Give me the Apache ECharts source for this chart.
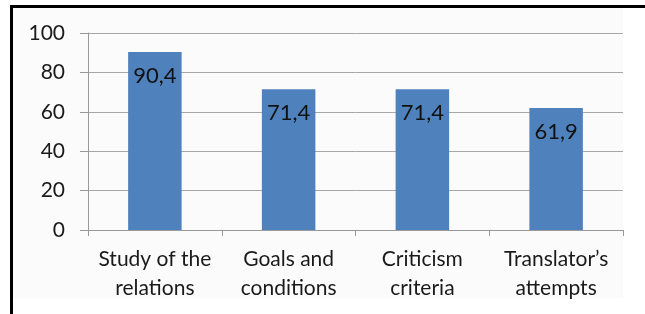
<!DOCTYPE html>
<html>
<head>
<meta charset="utf-8">
<script src="https://cdn.jsdelivr.net/npm/echarts@6/dist/echarts.min.js"></script>
<style>
  html, body { margin: 0; padding: 0; background: #fff; }
  #wrap { position: relative; width: 645px; height: 314px; overflow: hidden; }
  #frame {
    position: absolute; left: 10px; top: 5px; right: 0; bottom: 0;
    border-left: 3px solid #000; border-top: 3px solid #000;
  }
  #panel { position: absolute; left: 13px; top: 8px; width: 610px; height: 290px; background: #fbfbfb; }
  #chart { position: absolute; left: 0; top: 0; width: 645px; height: 314px; }
</style>
</head>
<body>
<div id="wrap">
  <div id="panel"></div>
  <div id="frame"></div>
  <div id="chart"></div>
</div>
<script>
const categories = ['Study of the\nrelations', 'Goals and\nconditions', 'Criticism\ncriteria', 'Translator\u2019s\nattempts']
const values = [90.4, 71.4, 71.4, 61.9]
const yTicks = [0, 20, 40, 60, 80, 100]

const font = 'Lato, "Open Sans", sans-serif'

const chart = echarts.init(document.getElementById('chart'))
chart.setOption({
  backgroundColor: 'transparent',
  animation: false,
  grid: { left: 88, right: 22, top: 33, bottom: 84 },
  xAxis: {
    type: 'category',
    data: categories,
    axisLine: { lineStyle: { color: '#999', width: 1 } },
    axisTick: { show: true, length: 6, lineStyle: { color: '#999' } },
    axisLabel: {
      color: '#1a1a1a',
      fontFamily: font,
      fontSize: 21,
      lineHeight: 29,
      margin: 15,
      interval: 0
    }
  },
  yAxis: {
    type: 'value',
    min: yTicks[0],
    max: yTicks[yTicks.length - 1],
    interval: 20,
    axisLine: { show: true, lineStyle: { color: '#999', width: 1 } },
    axisTick: { show: true, length: 8, lineStyle: { color: '#999' } },
    splitLine: { lineStyle: { color: '#a6a6a6', width: 1 } },
    axisLabel: {
      color: '#1a1a1a',
      fontFamily: font,
      fontSize: 21,
      margin: 23
    }
  },
  series: [
    {
      type: 'bar',
      data: values,
      barWidth: '40%',
      itemStyle: { color: '#4f81bd' },
      label: {
        show: true,
        position: 'insideTop',
        distance: 13,
        color: '#111',
        fontFamily: font,
        fontSize: 22,
        formatter: p => String(p.value).replace('.', ',')
      }
    }
  ]
})
</script>
</body>
</html>
